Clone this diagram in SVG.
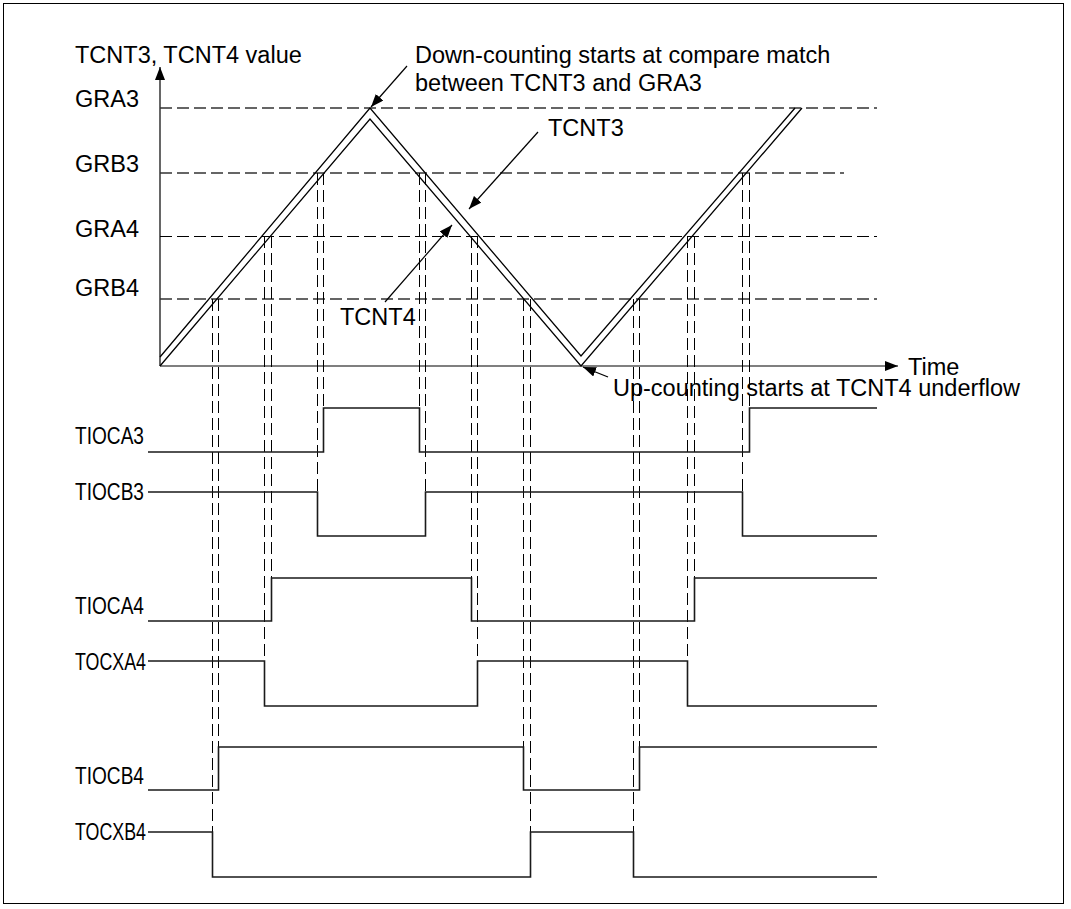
<svg xmlns="http://www.w3.org/2000/svg" width="1071" height="909" viewBox="0 0 1071 909">
<defs>
<style>
text{font-family:"Liberation Sans",Arial,Helvetica,sans-serif;fill:#000;font-size:23.5px}
.sig{font-size:23px}
.dash{stroke:#000;stroke-width:1;stroke-dasharray:12 5;fill:none}
.hd{stroke:#333;stroke-width:1.3;stroke-dasharray:12 5;fill:none}
.ln{stroke:#000;stroke-width:1.3;fill:none}
.wave{stroke:#1a1a1a;stroke-width:1.6;fill:none}
.arr{stroke:#000;stroke-width:1.2;fill:none;marker-end:url(#ah)}
</style>
<marker id="ah" viewBox="0 0 13 10" refX="13" refY="5" markerWidth="13" markerHeight="10" markerUnits="userSpaceOnUse" orient="auto">
<path d="M0,0 L13,5 L0,10 z" fill="#000"/>
</marker>
</defs>
<rect x="0" y="0" width="1071" height="909" fill="#fff"/>
<rect x="3.5" y="3.5" width="1060" height="900" fill="none" stroke="#000" stroke-width="1"/>

<g id="axes">
<line class="arr" x1="160" y1="366" x2="160" y2="67"/>
<line class="arr" x1="160" y1="366" x2="898" y2="366"/>
<text x="75" y="63">TCNT3, TCNT4 value</text>
<text x="908" y="375">Time</text>
</g>

<g id="thresholds">
<g id="GRA3"><line class="hd" x1="160" y1="108" x2="877" y2="108"/><text x="75" y="107">GRA3</text></g>
<g id="GRB3"><line class="hd" x1="160" y1="173" x2="844" y2="173"/><text x="75" y="172">GRB3</text></g>
<g id="GRA4"><line class="dash" x1="160" y1="236.5" x2="877" y2="236.5"/><text x="75" y="237">GRA4</text></g>
<g id="GRB4"><line class="hd" x1="160" y1="299" x2="877" y2="299"/><text x="75" y="296">GRB4</text></g>
</g>

<g id="counters">
<g id="TCNT3"><polyline class="ln" points="160,357 370,108 581,356 795,108"/><text x="548" y="136">TCNT3</text></g>
<g id="TCNT4"><polyline class="ln" points="160,366 370,119 581,366 802,108"/><text x="340" y="325">TCNT4</text></g>
</g>

<g id="connectors">
<line class="dash" x1="212.5" y1="299" x2="212.5" y2="832"/>
<line class="dash" x1="218.5" y1="299" x2="218.5" y2="747"/>
<line class="dash" x1="523.5" y1="299" x2="523.5" y2="747"/>
<line class="dash" x1="530.5" y1="299" x2="530.5" y2="832"/>
<line class="dash" x1="633.5" y1="299" x2="633.5" y2="832"/>
<line class="dash" x1="639.5" y1="299" x2="639.5" y2="747"/>
<line class="dash" x1="264.5" y1="236" x2="264.5" y2="661"/>
<line class="dash" x1="271.5" y1="236" x2="271.5" y2="578"/>
<line class="dash" x1="471.5" y1="236" x2="471.5" y2="578"/>
<line class="dash" x1="477.5" y1="236" x2="477.5" y2="661"/>
<line class="dash" x1="687.5" y1="236" x2="687.5" y2="661"/>
<line class="dash" x1="694.5" y1="236" x2="694.5" y2="578"/>
<line class="dash" x1="317.5" y1="173" x2="317.5" y2="492"/>
<line class="dash" x1="323.5" y1="173" x2="323.5" y2="408"/>
<line class="dash" x1="419.5" y1="173" x2="419.5" y2="408"/>
<line class="dash" x1="425.5" y1="173" x2="425.5" y2="492"/>
<line class="dash" x1="742.5" y1="173" x2="742.5" y2="492"/>
<line class="dash" x1="749.5" y1="173" x2="749.5" y2="408"/>
<line class="arr" x1="407" y1="66" x2="371" y2="107"/>
<line class="arr" x1="538" y1="132" x2="469" y2="209"/>
<line class="arr" x1="385" y1="302" x2="452" y2="225"/>
<line class="arr" x1="608" y1="377" x2="583" y2="367"/>
</g>

<g id="notes">
<text x="415" y="63">Down-counting starts at compare match</text>
<text x="415" y="91">between TCNT3 and GRA3</text>
<text x="613" y="396">Up-counting starts at TCNT4 underflow</text>
</g>

<g id="TIOCA3"><text class="sig" x="75" y="444" textLength="69" lengthAdjust="spacingAndGlyphs">TIOCA3</text><path class="wave" d="M148,452 H323.5 V408 H419.5 V452 H749.5 V408 H877"/></g>
<g id="TIOCB3"><text class="sig" x="75" y="500" textLength="69" lengthAdjust="spacingAndGlyphs">TIOCB3</text><path class="wave" d="M148,492 H317.5 V536 H425.5 V492 H742.5 V536 H877"/></g>
<g id="TIOCA4"><text class="sig" x="75" y="614" textLength="69" lengthAdjust="spacingAndGlyphs">TIOCA4</text><path class="wave" d="M148,621 H271.5 V578 H471.5 V621 H694.5 V578 H877"/></g>
<g id="TOCXA4"><text class="sig" x="75" y="670" textLength="71" lengthAdjust="spacingAndGlyphs">TOCXA4</text><path class="wave" d="M148,661 H264.5 V706 H477.5 V661 H687.5 V706 H877"/></g>
<g id="TIOCB4"><text class="sig" x="75" y="784" textLength="69" lengthAdjust="spacingAndGlyphs">TIOCB4</text><path class="wave" d="M148,790 H218.5 V747 H523.5 V790 H639.5 V747 H877"/></g>
<g id="TOCXB4"><text class="sig" x="75" y="840" textLength="71" lengthAdjust="spacingAndGlyphs">TOCXB4</text><path class="wave" d="M148,832 H212.5 V877 H530.5 V832 H633.5 V877 H877"/></g>
</svg>
